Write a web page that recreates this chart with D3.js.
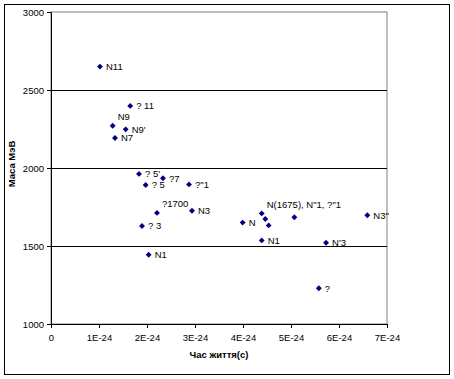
<!DOCTYPE html>
<meta charset="utf-8">
<script src="https://d3js.org/d3.v7.min.js"></script>
<style>
  body { margin: 0; background: #fff; }
  text { font-family: Arial, "Liberation Sans", sans-serif; }
</style>
<div id="my_dataviz"></div>
<script>

// data
var lifetimes = [1.02e-24, 1.65e-24, 1.285e-24, 1.556e-24, 1.333e-24,
                 1.833e-24, 2.333e-24, 1.972e-24, 2.875e-24, 2.208e-24,
                 2.937e-24, 1.896e-24, 2.035e-24, 3.993e-24, 4.39e-24,
                 4.465e-24, 4.535e-24, 5.07e-24, 6.59e-24, 4.39e-24,
                 5.73e-24, 5.58e-24];
var masses = [2650, 2398, 2271, 2248, 2192,
              1962, 1934, 1891, 1895, 1712,
              1726, 1628, 1444, 1650, 1709,
              1673, 1632, 1684, 1697, 1536,
              1521, 1229];
var labels = ["N11", "? 11", "N9", "N9'", "N7",
              "? 5'", "?7", "? 5", "?\"1", "?1700",
              "N3", "? 3", "N1", "N", "N(1675), N\"1, ?\"1",
              "", "", "", "N3\"", "N1",
              "N'3", "?"];
var xTicks = [0, 1e-24, 2e-24, 3e-24, 4e-24, 5e-24, 6e-24, 7e-24];
var xTickLabels = ["0", "1E-24", "2E-24", "3E-24", "4E-24", "5E-24", "6E-24", "7E-24"];
var yTicks = [1000, 1500, 2000, 2500, 3000];

// labels that sit above their point instead of to the right
var labelsAbove = ["N9", "?1700", "N(1675), N\"1, ?\"1"];

var W = 454, H = 379;
var margin = {top: 12, right: 67, bottom: 55, left: 51},
    width = W - margin.left - margin.right,
    height = H - margin.top - margin.bottom;

var root = d3.select("#my_dataviz")
  .append("svg")
    .attr("width", W)
    .attr("height", H);

// outer chart border
root.append("rect")
  .attr("x", 4.5).attr("y", 4.5)
  .attr("width", 445).attr("height", 370)
  .attr("fill", "none")
  .attr("stroke", "#000")
  .attr("stroke-width", 1);

var svg = root.append("g")
  .attr("transform", "translate(" + margin.left + "," + margin.top + ")");

var x = d3.scaleLinear().domain([0, 7e-24]).range([0, width]);
var y = d3.scaleLinear().domain([1000, 3000]).range([height, 0]);

// plot area border (grey)
svg.append("rect")
  .attr("x", 0).attr("y", 0)
  .attr("width", width).attr("height", height)
  .attr("fill", "none")
  .attr("stroke", "#808080")
  .attr("stroke-width", 1);

// horizontal gridlines
svg.append("g")
  .selectAll("line")
  .data(yTicks.filter(function (d) { return d > 1000 && d < 3000; }))
  .enter()
  .append("line")
    .attr("x1", 0).attr("x2", width)
    .attr("y1", function (d) { return Math.round(y(d)) + 0.5; })
    .attr("y2", function (d) { return Math.round(y(d)) + 0.5; })
    .attr("stroke", "#000");

// X axis
var xAxis = svg.append("g")
  .attr("transform", "translate(0," + height + ")")
  .call(d3.axisBottom(x)
    .tickValues(xTicks)
    .tickSize(4)
    .tickPadding(6)
    .tickFormat(function (d, i) { return xTickLabels[i]; }));

// Y axis
var yAxis = svg.append("g")
  .call(d3.axisLeft(y)
    .tickValues(yTicks)
    .tickSize(4)
    .tickPadding(3)
    .tickFormat(d3.format("d")));

[xAxis, yAxis].forEach(function (a) {
  a.select(".domain").attr("stroke", "#000");
  a.selectAll(".tick line").attr("stroke", "#000");
  a.selectAll("text")
    .style("font-size", "9.5px")
    .style("fill", "#000");
});

// axis titles
svg.append("text")
  .attr("text-anchor", "middle")
  .attr("x", width / 2)
  .attr("y", height + 34)
  .style("font-size", "9.5px")
  .style("font-weight", "bold")
  .text("Час життя(с)");

svg.append("text")
  .attr("text-anchor", "middle")
  .attr("transform", "rotate(-90)")
  .attr("x", -(164 - margin.top))
  .attr("y", -margin.left + 15)
  .style("font-size", "9.5px")
  .style("font-weight", "bold")
  .text("Маса МэВ");

var points = lifetimes.map(function (d, i) {
  return {t: d, m: masses[i], label: labels[i]};
});

// diamond markers
svg.append("g")
  .selectAll("path")
  .data(points)
  .enter()
  .append("path")
    .attr("transform", function (d) { return "translate(" + x(d.t) + "," + y(d.m) + ")"; })
    .attr("d", d3.symbol().type(d3.symbolDiamond2).size(22))
    .attr("fill", "#000080");

// point labels
svg.append("g")
  .selectAll("text")
  .data(points.filter(function (d) { return d.label !== ""; }))
  .enter()
  .append("text")
    .attr("x", function (d) { return x(d.t) + (labelsAbove.indexOf(d.label) >= 0 ? 5 : 6); })
    .attr("y", function (d) { return y(d.m) + (labelsAbove.indexOf(d.label) >= 0 ? -9 : 0); })
    .attr("dy", "0.35em")
    .style("font-size", "9.5px")
    .style("fill", "#000")
    .text(function (d) { return d.label; });

</script>
